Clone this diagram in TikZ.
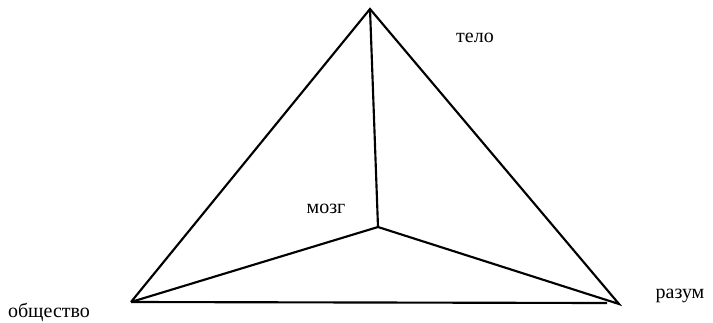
\documentclass[tikz,border=0pt]{standalone}
\usepackage{fontspec}
\setmainfont{Liberation Serif}
\usetikzlibrary{positioning}

\begin{document}
\begin{tikzpicture}[
  x=0.75pt, y=-0.75pt,
  edge/.style={draw, line width=1.6pt, line join=miter},
  lbl/.style={anchor=base, inner sep=0pt, font=\fontsize{15}{18}\selectfont}
]
  \useasboundingbox (0,0) rectangle (713,322);
  \coordinate (top) at (370,9);
  \coordinate (brain) at (378,227);
  \coordinate (left) at (131,302);
  \coordinate (right) at (619,304);
  \coordinate (baseend) at (607,303);
  \draw[edge] (left) -- (top) -- (right) -- (brain) -- (left);
  \draw[edge] (top) -- (brain);
  \draw[edge] (left) -- (baseend);
  \node[lbl] (body) at (475,42) {тело};
  \node[lbl] (mozg) at (326,213) {мозг};
  \node[lbl] (soc) at (49,317) {общество};
  \node[lbl] (mind) at (680,298) {разум};
\end{tikzpicture}
\end{document}
